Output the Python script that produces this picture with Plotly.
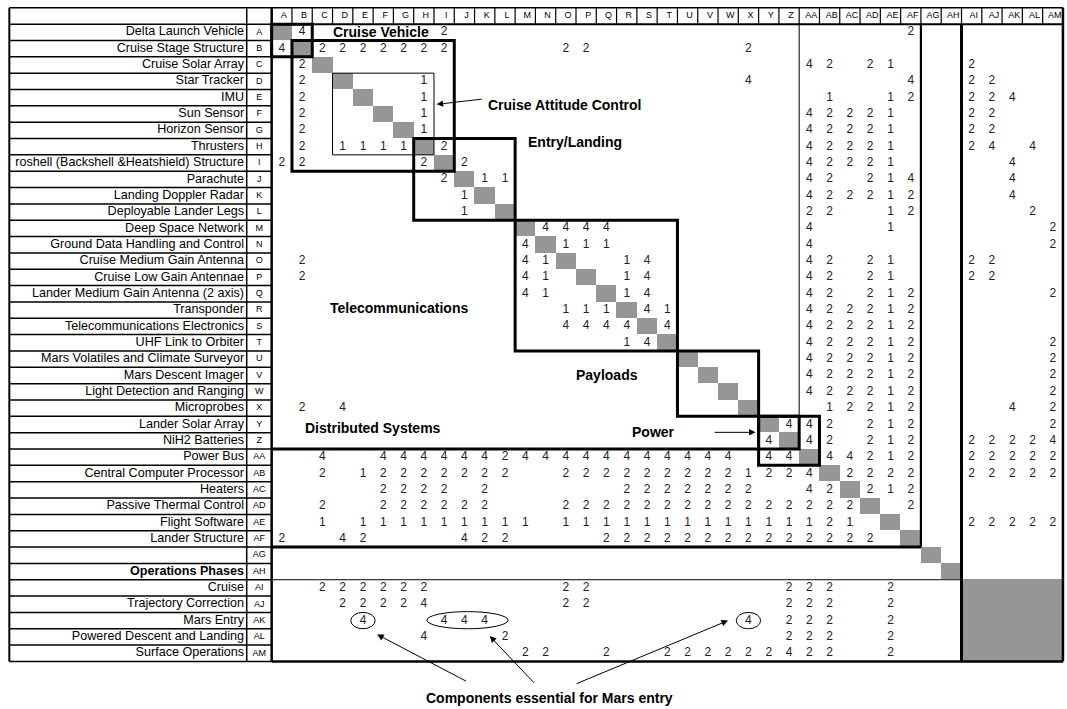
import re
import plotly.graph_objects as go

# ---------------- data ----------------
codes = ["A", "B", "C", "D", "E", "F", "G", "H", "I", "J", "K", "L", "M", "N",
         "O", "P", "Q", "R", "S", "T", "U", "V", "W", "X", "Y", "Z", "AA", "AB",
         "AC", "AD", "AE", "AF", "AG", "AH", "AI", "AJ", "AK", "AL", "AM"]

row_labels = [
    "Delta Launch Vehicle", "Cruise Stage Structure", "Cruise Solar Array",
    "Star Tracker", "IMU", "Sun Sensor", "Horizon Sensor", "Thrusters",
    "roshell (Backshell &Heatshield) Structure", "Parachute",
    "Landing Doppler Radar", "Deployable Lander Legs", "Deep Space Network",
    "Ground Data Handling and Control", "Cruise Medium Gain Antenna",
    "Cruise Low Gain Antennae", "Lander Medium Gain Antenna (2 axis)",
    "Transponder", "Telecommunications Electronics", "UHF Link to Orbiter",
    "Mars Volatiles and Climate Surveyor", "Mars Descent Imager",
    "Light Detection and Ranging", "Microprobes", "Lander Solar Array",
    "NiH2 Batteries", "Power Bus", "Central Computer Processor", "Heaters",
    "Passive Thermal Control", "Flight Software", "Lander Structure", "",
    "<b>Operations Phases</b>", "Cruise", "Trajectory Correction", "Mars Entry",
    "Powered Descent and Landing", "Surface Operations",
]

# interaction strengths per row: "<column code><value>"
dsm_entries = [
    "B4 I2 AF2",
    "A4 C2 D2 E2 F2 G2 H2 I2 O2 P2 X2",
    "B2 AA4 AB2 AD2 AE1 AI2",
    "B2 H1 X4 AF4 AI2 AJ2",
    "B2 H1 AB1 AE1 AF2 AI2 AJ2 AK4",
    "B2 H1 AA4 AB2 AC2 AD2 AE1 AI2 AJ2",
    "B2 H1 AA4 AB2 AC2 AD2 AE1 AI2 AJ2",
    "B2 D1 E1 F1 G1 I2 AA4 AB2 AC2 AD2 AE1 AI2 AJ4 AL4",
    "A2 B2 H2 J2 AA4 AB2 AC2 AD2 AE1 AK4",
    "I2 K1 L1 AA4 AB2 AD2 AE1 AF4 AK4",
    "J1 AA4 AB2 AC2 AD2 AE1 AF2 AK4",
    "J1 AA2 AB2 AE1 AF2 AL2",
    "N4 O4 P4 Q4 AA4 AE1 AM2",
    "M4 O1 P1 Q1 AA4 AM2",
    "B2 M4 N1 R1 S4 AA4 AB2 AD2 AE1 AI2 AJ2",
    "B2 M4 N1 R1 S4 AA4 AB2 AD2 AE1 AI2 AJ2",
    "M4 N1 R1 S4 AA4 AB2 AD2 AE1 AF2 AM2",
    "O1 P1 Q1 S4 T1 AA4 AB2 AC2 AD2 AE1 AF2",
    "O4 P4 Q4 R4 T4 AA4 AB2 AC2 AD2 AE1 AF2",
    "R1 S4 AA4 AB2 AC2 AD2 AE1 AF2 AM2",
    "AA4 AB2 AC2 AD2 AE1 AF2 AM2",
    "AA4 AB2 AC2 AD2 AE1 AF2 AM2",
    "AA4 AB2 AC2 AD2 AE1 AF2 AM2",
    "B2 D4 AB1 AC2 AD2 AE1 AF2 AK4 AM2",
    "Z4 AA4 AB2 AD2 AE1 AF2 AM2",
    "Y4 AA4 AB2 AD2 AE1 AF2 AI2 AJ2 AK2 AL2 AM4",
    "C4 F4 G4 H4 I4 J4 K4 L2 M4 N4 O4 P4 Q4 R4 S4 T4 U4 V4 W4 Y4 Z4 AB4 AC4 AD2 AE1 AF2 AI2 AJ2 AK2 AL2 AM2",
    "C2 E1 F2 G2 H2 I2 J2 K2 L2 O2 P2 Q2 R2 S2 T2 U2 V2 W2 X1 Y2 Z2 AA4 AC2 AD2 AE2 AF2 AI2 AJ2 AK2 AL2 AM2",
    "F2 G2 H2 I2 K2 R2 S2 T2 U2 V2 W2 X2 AA4 AB2 AD2 AE1 AF2",
    "C2 F2 G2 H2 I2 J2 K2 O2 P2 Q2 R2 S2 T2 U2 V2 W2 X2 Y2 Z2 AA2 AB2 AC2 AF2",
    "C1 E1 F1 G1 H1 I1 J1 K1 L1 M1 O1 P1 Q1 R1 S1 T1 U1 V1 W1 X1 Y1 Z1 AA1 AB2 AC1 AI2 AJ2 AK2 AL2 AM2",
    "A2 D4 E2 J4 K2 L2 Q2 R2 S2 T2 U2 V2 W2 X2 Y2 Z2 AA2 AB2 AC2 AD2",
    "",
    "",
    "C2 D2 E2 F2 G2 H2 O2 P2 Z2 AA2 AB2 AE2",
    "D2 E2 F2 G2 H4 O2 P2 Z2 AA2 AB2 AE2",
    "E4 I4 J4 K4 X4 Z2 AA2 AB2 AE2",
    "H4 L2 Z2 AA2 AB2 AE2",
    "M2 N2 Q2 T2 U2 V2 W2 X2 Y2 Z4 AA2 AB2 AE2",
]

diag_codes = codes[:34]          # shaded diagonal cells
ops_codes = codes[34:]           # shaded operations-phase block
thick_groups = [("A", "B"), ("B", "I"), ("H", "L"), ("M", "T"),
                ("U", "X"), ("Y", "Z"), ("Y", "AA")]
thin_groups = [("D", "H")]
circled_single = [("AK", "E"), ("AK", "X")]
circled_span = [("AK", "I", "K")]

# ---------------- build ----------------
n = len(codes)
idx = {c: i for i, c in enumerate(codes)}

vx, vy, vt = [], [], []
for r, row in enumerate(dsm_entries):
    for tok in row.split():
        m = re.match(r"([A-Z]+)(\d+)$", tok)
        vx.append(idx[m.group(1)])
        vy.append(r)
        vt.append(m.group(2))

z = [[None] * n for _ in range(n)]
for c in diag_codes:
    z[idx[c]][idx[c]] = 1
for rc in ops_codes:
    for cc in ops_codes:
        z[idx[rc]][idx[cc]] = 1

GRAY = "#969696"
FONT = "Liberation Sans, Arial, sans-serif"
X_RANGE = [-13.89, 38.70]
Y_RANGE = [41.41, -1.977]
LABEL_LEFT = -13.43
LETTER_LEFT = -1.73
GRID_LEFT = -0.5
HEAD_TOP = -1.5
LAST = n - 0.5

fig = go.Figure()
fig.add_trace(go.Heatmap(z=z, x=list(range(n)), y=list(range(n)),
                         colorscale=[[0, GRAY], [1, GRAY]], zmin=0, zmax=1,
                         showscale=False, hoverinfo="skip"))

fig.add_trace(go.Scatter(x=vx, y=vy, text=vt, mode="text",
                         textposition="middle center",
                         textfont=dict(family=FONT, size=12, color="#222222"),
                         hoverinfo="skip"))

# row labels
fig.add_trace(go.Scatter(x=[-1.86] * n, y=list(range(n)), text=row_labels,
                         mode="text", textposition="middle left",
                         textfont=dict(family=FONT, size=12.6, color="black"),
                         hoverinfo="skip"))
# row letters
fig.add_trace(go.Scatter(x=[(LETTER_LEFT + GRID_LEFT) / 2] * n, y=list(range(n)),
                         text=codes, mode="text", textposition="middle center",
                         textfont=dict(family=FONT, size=9, color="black"),
                         hoverinfo="skip"))
# column letters
fig.add_trace(go.Scatter(x=[i + 0.1 for i in range(n)], y=[-1] * n, text=codes,
                         mode="text", textposition="middle center",
                         textfont=dict(family=FONT, size=9, color="black"),
                         hoverinfo="skip"))

shapes = []


def seg(x0, y0, x1, y1, w):
    shapes.append(dict(type="line", xref="x", yref="y", x0=x0, y0=y0, x1=x1,
                       y1=y1, line=dict(color="black", width=w)))


def box(a, b, w):
    i, j = idx[a], idx[b]
    shapes.append(dict(type="rect", xref="x", yref="y", x0=i - 0.5, x1=j + 0.5,
                       y0=i - 0.5, y1=j + 0.5, line=dict(color="black", width=w),
                       fillcolor="rgba(0,0,0,0)"))


# label + letter columns
for k in range(-1, n + 1):
    seg(LABEL_LEFT, k - 0.5, GRID_LEFT, k - 0.5, 1.5)
seg(LABEL_LEFT, HEAD_TOP, LABEL_LEFT, LAST, 2)
seg(LETTER_LEFT, HEAD_TOP, LETTER_LEFT, LAST, 1.5)
# header row
seg(GRID_LEFT, HEAD_TOP, LAST, HEAD_TOP, 1.5)
for i in range(n + 1):
    seg(i - 0.5, HEAD_TOP, i - 0.5, -0.5, 1.2)
# matrix outer border
seg(GRID_LEFT, -0.5, LAST, -0.5, 2)
seg(GRID_LEFT, HEAD_TOP, GRID_LEFT, LAST, 2.5)
seg(LAST, HEAD_TOP, LAST, LAST, 2.5)
seg(GRID_LEFT, LAST, LAST, LAST, 2.5)

# distributed systems / operations separators
seg(GRID_LEFT, idx["AA"] - 0.5, idx["Y"] - 0.5, idx["AA"] - 0.5, 3)
seg(idx["AA"] - 0.5, -0.5, idx["AA"] - 0.5, idx["Y"] - 0.5, 1)
seg(idx["AF"] + 0.5, -0.5, idx["AF"] + 0.5, idx["AF"] + 0.5, 2.2)
seg(GRID_LEFT, idx["AF"] + 0.5, idx["AF"] + 0.5, idx["AF"] + 0.5, 3)
seg(idx["AI"] - 0.5, -0.5, idx["AI"] - 0.5, LAST, 3)
seg(GRID_LEFT, idx["AI"] - 0.5, idx["AI"] - 0.5, idx["AI"] - 0.5, 1)

for a, b in thick_groups:
    box(a, b, 3)
for a, b in thin_groups:
    box(a, b, 1)

for r, c in circled_single:
    shapes.append(dict(type="circle", xref="x", yref="y",
                       x0=idx[c] - 0.6, x1=idx[c] + 0.6,
                       y0=idx[r] - 0.5, y1=idx[r] + 0.5,
                       line=dict(color="black", width=1)))
for r, c0, c1 in circled_span:
    shapes.append(dict(type="circle", xref="x", yref="y",
                       x0=idx[c0] - 0.85, x1=idx[c1] + 1.15,
                       y0=idx[r] - 0.55, y1=idx[r] + 0.5,
                       line=dict(color="black", width=1)))

annotations = []


def title(text, x, y, anchor="center"):
    annotations.append(dict(text="<b>" + text + "</b>", x=x, y=y, xref="x",
                            yref="y", showarrow=False, xanchor=anchor,
                            yanchor="middle",
                            font=dict(family=FONT, size=14, color="black")))


def arrow(x, y, ax, ay):
    annotations.append(dict(text="", x=x, y=y, ax=ax, ay=ay, xref="x", yref="y",
                            axref="x", ayref="y", showarrow=True, arrowhead=2,
                            arrowsize=1.3, arrowwidth=1, arrowcolor="black",
                            standoff=0, startstandoff=0))


title("Cruise Vehicle", 4.9, 0)
title("Cruise Attitude Control", 10.05, 4.45, "left")
title("Entry/Landing", 12.05, 6.7, "left")
title("Telecommunications", 5.77, 16.9)
title("Payloads", 16.05, 20.95)
title("Power", 18.34, 24.45)
title("Distributed Systems", 4.5, 24.2)
title("Components essential for Mars entry", 13.2, 40.75)

arrow(7.63, 4.41, 9.93, 4.08)
arrow(23.35, 24.48, 21.26, 24.48)
arrow(4.7, 36.85, 9.15, 39.75)
arrow(10.25, 36.95, 12.5, 39.9)
arrow(21.99, 36.0, 14.45, 39.9)

fig.update_layout(
    width=1067, height=709, margin=dict(l=0, r=0, t=0, b=0),
    paper_bgcolor="white", plot_bgcolor="white", showlegend=False,
    xaxis=dict(range=X_RANGE, visible=False, fixedrange=True),
    yaxis=dict(range=Y_RANGE, visible=False, fixedrange=True),
    shapes=shapes, annotations=annotations,
)

fig.write_html(
    "out.html",
    config={"displayModeBar": False},
    post_script="document.body.style.margin='0';document.body.style.overflow='hidden';",
)
